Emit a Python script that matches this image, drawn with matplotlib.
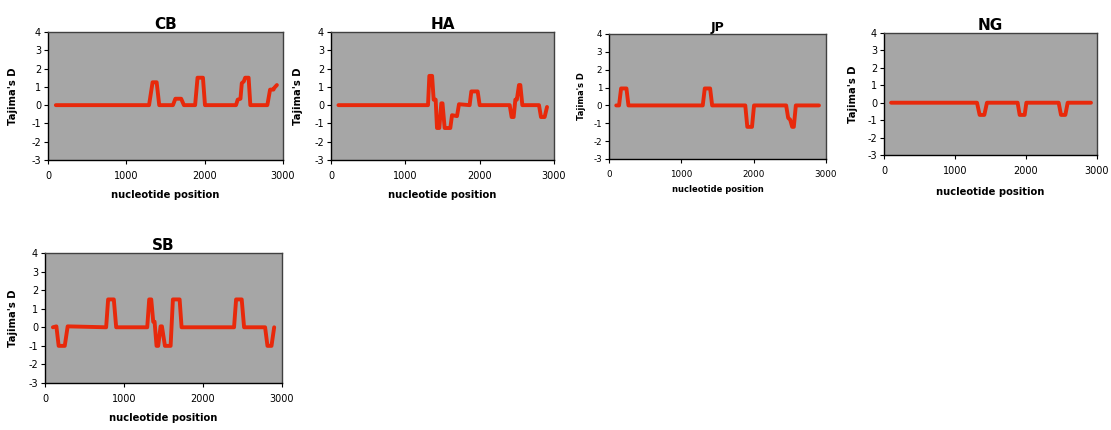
import matplotlib
matplotlib.use("Agg")
import matplotlib.pyplot as plt

plt.rcParams["axes.unicode_minus"] = False

W, H = 1111, 430

# ---- data ----
cb_x = [100, 1290, 1335, 1387, 1420, 1595, 1626, 1700, 1735, 1878, 1909, 1978, 2004,
        2400, 2422, 2457, 2474, 2500, 2517, 2561, 2583, 2800, 2835, 2878, 2890, 2922]
cb_y = [0, 0, 1.25, 1.25, 0, 0, 0.35, 0.35, 0, 0, 1.5, 1.5, 0,
        0, 0.3, 0.35, 1.2, 1.3, 1.5, 1.5, 0, 0, 0.85, 0.85, 0.95, 1.1]

ha_x = [100, 1305, 1323, 1360, 1381, 1408, 1426, 1457, 1484, 1500, 1529, 1605, 1628,
        1695, 1722, 1865, 1888, 1973, 2000, 2404, 2430, 2457, 2480, 2500, 2529, 2547,
        2574, 2798, 2825, 2874, 2906]
ha_y = [0, 0, 1.6, 1.6, 0.3, 0.3, -1.25, -1.25, 0.1, 0.1, -1.25, -1.25, -0.55,
        -0.6, 0.05, 0, 0.75, 0.75, 0, 0, -0.65, -0.65, 0.3, 0.3, 1.1, 1.1,
        0, 0, -0.65, -0.65, -0.1]

jp_x = [100, 139, 167, 241, 269, 1296, 1324, 1398, 1426, 1884, 1912, 1977, 2005,
        2449, 2477, 2505, 2532, 2555, 2583, 2903]
jp_y = [0, 0, 0.95, 0.95, 0, 0, 0.95, 0.95, 0, 0, -1.2, -1.2, 0,
        0, -0.7, -0.8, -1.2, -1.2, 0, 0]

ng_x = [100, 1310, 1347, 1413, 1450, 1882, 1911, 1981, 2005, 2460, 2493, 2554, 2587, 2915]
ng_y = [0, 0, -0.7, -0.7, 0, 0, -0.7, -0.7, 0, 0, -0.7, -0.7, 0, 0]

sb_x = [100, 144, 173, 250, 287, 774, 799, 871, 901, 1294, 1319, 1345, 1370, 1387,
        1412, 1433, 1463, 1480, 1518, 1590, 1619, 1704, 1729, 2393, 2419, 2490, 2520,
        2786, 2816, 2867, 2901]
sb_y = [0, 0.05, -1, -1, 0.05, 0, 1.5, 1.5, 0, 0, 1.5, 1.5, 0.3, 0.3,
        -1, -1, 0.05, 0.05, -1, -1, 1.5, 1.5, 0, 0, 1.5, 1.5, 0,
        0, -1, -1, 0]

titles = ["CB", "HA", "JP", "NG", "SB"]
series = [(cb_x, cb_y), (ha_x, ha_y), (jp_x, jp_y), (ng_x, ng_y), (sb_x, sb_y)]
x_ticks = [0, 1000, 2000, 3000]
y_ticks = [-3, -2, -1, 0, 1, 2, 3, 4]
x_label = "nucleotide position"
y_label = "Tajima's D"

# ---- layout (pixels: left, right, top, bottom, ylabel-x, title-y, xlabel-y,
#      tick size, label size, title size) ----
boxes = [
    (48, 283, 32, 160, 18, 20, 195, 7.0, 7.2, 11),
    (331, 554, 32, 160, 303, 20, 195, 7.0, 7.2, 11),
    (609, 826, 34, 159, 586, 23, 190, 6.3, 6.0, 9),
    (884, 1097, 33, 155, 858, 20, 192, 7.0, 7.2, 11),
    (45, 282, 253, 383, 18, 240, 418, 7.0, 7.2, 11),
]

fig = plt.figure(figsize=(W / 100, H / 100), dpi=100)
fig.patch.set_facecolor("white")

for (t, (xs, ys), (l, r, tp, b, ylx, ty, xly, tks, lbs, tts)) in zip(titles, series, boxes):
    ax = fig.add_axes([l / W, (H - b) / H, (r - l) / W, (b - tp) / H])
    ax.set_facecolor("#A6A6A6")
    ax.plot(xs, ys, color="#E8290B", lw=2.8, solid_joinstyle="round", solid_capstyle="round")
    ax.set_xlim(0, 3000)
    ax.set_ylim(-3, 4)
    ax.set_xticks(x_ticks)
    ax.set_yticks(y_ticks)
    ax.tick_params(axis="both", labelsize=tks, length=3, width=0.8, pad=2,
                   colors="black")
    ax.tick_params(axis="x", pad=5)
    for side in ["left", "bottom"]:
        ax.spines[side].set_color("black")
        ax.spines[side].set_linewidth(1.0)
    for side in ["top", "right"]:
        ax.spines[side].set_color("#404040")
        ax.spines[side].set_linewidth(1.0)
    ax.set_title(t, fontsize=tts, fontweight="bold", pad=0)
    ax.title.set_y(1.0 + (tp - ty) / (b - tp))
    ax.title.set_va("center")
    ax.set_ylabel(y_label, fontsize=lbs, fontweight="bold")
    ax.yaxis.set_label_coords((ylx - l) / (r - l), 0.5)
    ax.set_xlabel(x_label, fontsize=lbs, fontweight="bold")
    ax.xaxis.set_label_coords(0.5, (b - xly) / (b - tp))
    ax.xaxis.label.set_va("center")

fig.savefig("out.png", dpi=100)
